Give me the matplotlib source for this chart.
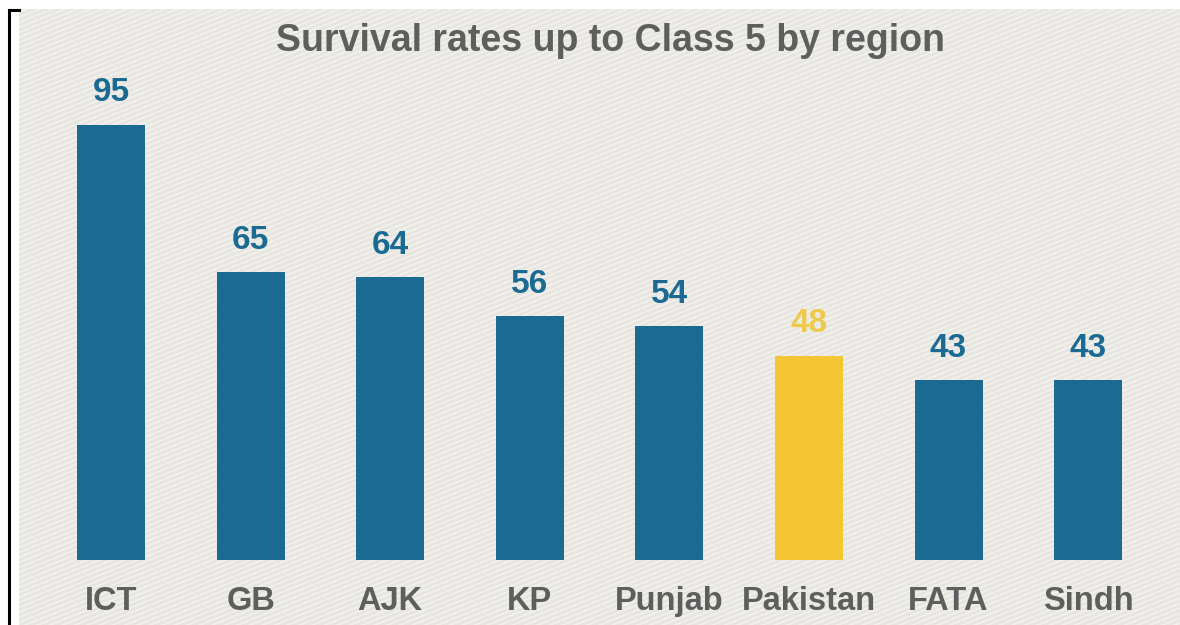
import numpy as np
import matplotlib
matplotlib.use("Agg")
import matplotlib.pyplot as plt
from matplotlib.patches import Rectangle
from matplotlib.collections import LineCollection

# ---- data ----
regions = ["ICT", "GB", "AJK", "KP", "Punjab", "Pakistan", "FATA", "Sindh"]
rates = [95, 65, 64, 56, 54, 48, 43, 43]
highlight = "Pakistan"
title = "Survival rates up to Class 5 by region"

BLUE = "#1a6a93"
YELLOW = "#f4c634"
YELLOW_TXT = "#efc94c"
GREY_TXT = "#5e5e5e"

W, H = 1180, 625
fig = plt.figure(figsize=(W / 100, H / 100), dpi=100)
fig.patch.set_facecolor("white")

# textured background panel
px0, py0 = 19, 9  # left / top offsets in pixels
bg = Rectangle((px0 / W, 0), 1 - px0 / W, 1 - py0 / H, transform=fig.transFigure,
               facecolor="#e7e5df", edgecolor="none", zorder=-2)
fig.add_artist(bg)
segs = []
slope = 0.4
for c in np.arange(-600, 700, 5):
    segs.append([(px0, c + slope * px0), (W, c + slope * W)])
segs = [[(xx / W, yy / H) for xx, yy in s] for s in segs]
lc = LineCollection(segs, colors="#f1f0ec", linewidths=1.4, transform=fig.transFigure, zorder=-1)
lc.set_clip_path(bg)
fig.add_artist(lc)

# left black frame line
fig.add_artist(plt.Line2D([9 / W, 9 / W], [0, 1 - 10 / H], color="black", lw=2.2,
                          transform=fig.transFigure, zorder=3))
fig.add_artist(plt.Line2D([9 / W, 19 / W], [1 - 10 / H, 1 - 10 / H], color="black", lw=2.2,
                          transform=fig.transFigure, zorder=3))

ax = fig.add_axes([20 / W, 65 / H, 1160 / W, 551 / H])
ax.set_zorder(1)
ax.set_facecolor("none")
x = np.arange(len(regions))
colors = [YELLOW if r == highlight else BLUE for r in regions]
ax.bar(x, rates, width=0.487, color=colors, zorder=2)
ax.set_xlim(-0.652, 7.658)
ax.set_ylim(6.5, 118.5)
for s in ax.spines.values():
    s.set_visible(False)
ax.set_yticks([])
ax.set_xticks(x)
ax.set_xticklabels(regions, fontfamily="Liberation Sans", fontweight="bold",
                   fontsize=23.5, color=GREY_TXT)
ax.tick_params(axis="x", length=0, pad=19)

for xi, v, r in zip(x, rates, regions):
    ax.annotate(str(v), (xi, v), xytext=(0, 17), textcoords="offset points",
                ha="center", va="baseline", fontfamily="Liberation Sans",
                fontweight="bold", fontsize=24,
                color=YELLOW_TXT if r == highlight else BLUE)

fig.text(611 / W, 1 - 41 / H, title, ha="center", va="center",
         fontfamily="Liberation Sans", fontweight="bold", fontsize=27, color=GREY_TXT)

fig.savefig("out.png", dpi=100)
